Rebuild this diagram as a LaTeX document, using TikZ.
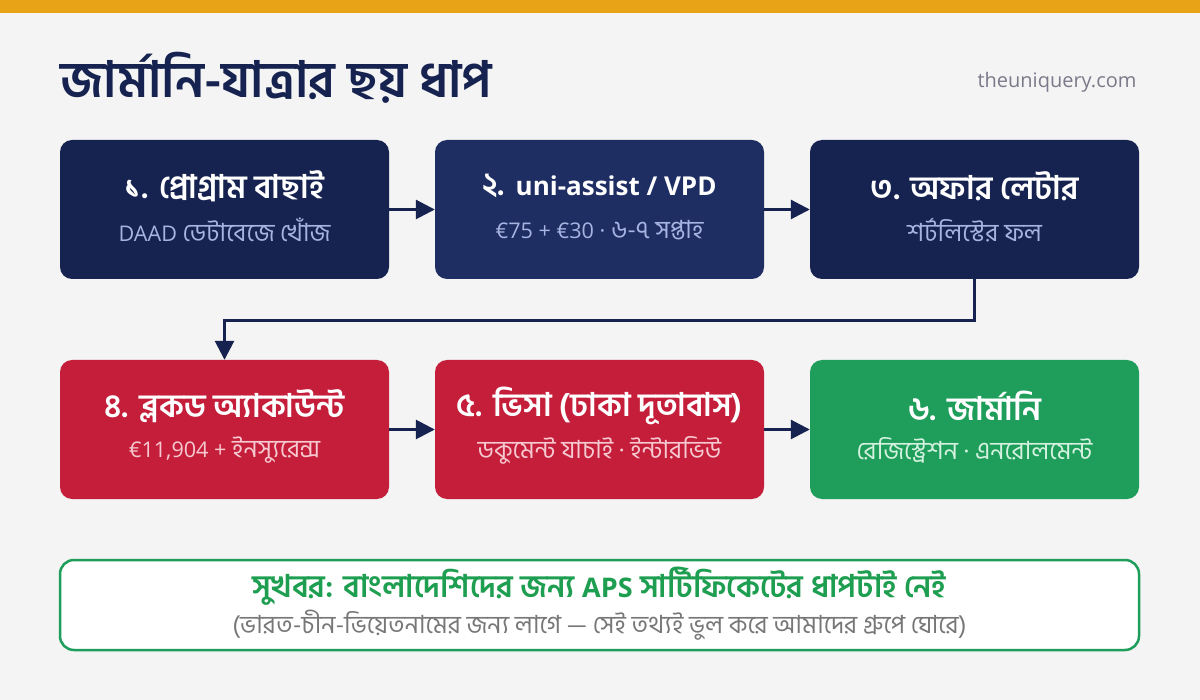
\documentclass[tikz,border=0pt]{standalone}
\usepackage{fontspec}
\usetikzlibrary{arrows.meta}
\setmainfont{Open Sans}
\newfontfamily\bn[Script=Bengali,Scale=1.25]{Hind Siliguri}
\newfontfamily\la{Open Sans}
\newfontfamily\lasub[Scale=1.08]{Open Sans}
\definecolor{topbar}{HTML}{E8A317}
\definecolor{bgc}{HTML}{F4F4F4}
\definecolor{navy}{HTML}{16224F}
\definecolor{navyb}{HTML}{1E2D62}
\definecolor{subnavy}{HTML}{A5B4E0}
\definecolor{redc}{HTML}{C41E3A}
\definecolor{subred}{HTML}{F6C9D0}
\definecolor{greenc}{HTML}{1E9E5A}
\definecolor{subgreen}{HTML}{D4F2DF}
\definecolor{greentxt}{HTML}{1E9E50}
\definecolor{graytxt}{HTML}{777777}
\definecolor{urlgray}{HTML}{7A7A8A}
\begin{document}
\begin{tikzpicture}[x=1pt,y=-1pt,
  stepbox/.style={rectangle,rounded corners=12pt,minimum width=329pt,minimum height=139pt,inner sep=0pt},
  steptitle/.style={text=white,font=\bn\bfseries\fontsize{26}{30}\selectfont,anchor=center},
  stepsub/.style={font=\bn\fontsize{20}{24}\selectfont,anchor=center},
  conn/.style={draw=navy,line width=2.8pt,-{Triangle[length=19pt,width=19pt]}}]
\useasboundingbox (0,0) rectangle (1200,700);
\fill[bgc] (0,0) rectangle (1200,700);
\fill[topbar] (0,0) rectangle (1200,13);
\node[anchor=west,text=navy,font=\bn\bfseries\fontsize{40}{46}\selectfont] (title) at (57,78) {জার্মানি-যাত্রার ছয় ধাপ};
\node[anchor=east,text=urlgray,font=\la\fontsize{20}{24}\selectfont] (url) at (1140,82) {theuniquery.com};
% row 1
\node[stepbox,fill=navy] (b1) at (224.5,209.5) {};
\node[stepbox,fill=navyb] (b2) at (599.5,209.5) {};
\node[stepbox,fill=navy] (b3) at (974.5,209.5) {};
% row 2
\node[stepbox,fill=redc] (b4) at (224.5,429.5) {};
\node[stepbox,fill=redc] (b5) at (599.5,429.5) {};
\node[stepbox,fill=greenc] (b6) at (974.5,429.5) {};
% texts
\node[steptitle] (t1) at (224.5,186) {১. প্রোগ্রাম বাছাই};
\node[stepsub,text=subnavy] (s1) at (224.5,230) {{\lasub DAAD} ডেটাবেজে খোঁজ};
\node[steptitle] (t2) at (599.5,186) {২. {\la\bfseries uni-assist / VPD}};
\node[stepsub,text=subnavy] (s2) at (599.5,230) {{\lasub €75 + €30 ·} ৬-৭ সপ্তাহ};
\node[steptitle] (t3) at (974.5,186) {৩. অফার লেটার};
\node[stepsub,text=subnavy] (s3) at (974.5,230) {শর্টলিস্টের ফল};
\node[steptitle] (t4) at (224.5,406) {৪. ব্লকড অ্যাকাউন্ট};
\node[stepsub,text=subred] (s4) at (224.5,450) {{\lasub €11,904 +} ইনস্যুরেন্স};
\node[steptitle] (t5) at (599.5,406) {৫. ভিসা (ঢাকা দূতাবাস)};
\node[stepsub,text=subred] (s5) at (599.5,450) {ডকুমেন্ট যাচাই · ইন্টারভিউ};
\node[steptitle] (t6) at (974.5,406) {৬. জার্মানি};
\node[stepsub,text=subgreen] (s6) at (974.5,450) {রেজিস্ট্রেশন · এনরোলমেন্ট};
% connectors
\draw[conn] (b1.east) -- (b2.west);
\draw[conn] (b2.east) -- (b3.west);
\draw[conn] (b4.east) -- (b5.west);
\draw[conn] (b5.east) -- (b6.west);
\draw[conn] (b3.south) -- ++(0,41) -| (b4.north);
% bottom note
\node[rectangle,rounded corners=14pt,minimum width=1079pt,minimum height=90pt,fill=white,draw=greenc,line width=2.5pt] (note) at (599.5,605) {};
\node[text=greentxt,font=\bn\bfseries\fontsize{25}{29}\selectfont] (n1) at (599.5,586) {সুখবর: বাংলাদেশিদের জন্য {\la\bfseries\fontsize{27}{30}\selectfont APS} সার্টিফিকেটের ধাপটাই নেই};
\node[text=graytxt,font=\bn\fontsize{20}{24}\selectfont] (n2) at (599.5,625) {(ভারত-চীন-ভিয়েতনামের জন্য লাগে — সেই তথ্যই ভুল করে আমাদের গ্রুপে ঘোরে)};
\end{tikzpicture}
\end{document}
